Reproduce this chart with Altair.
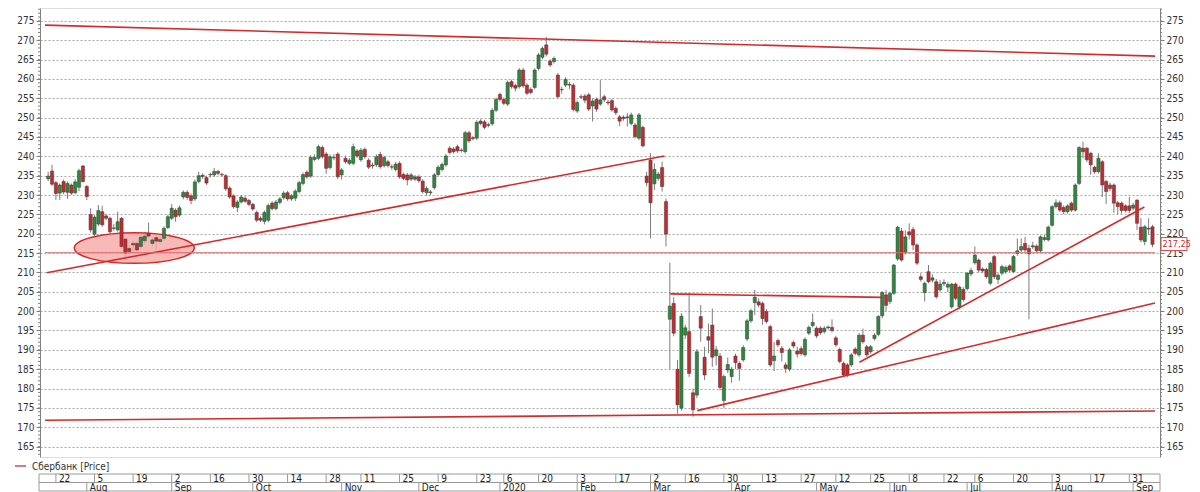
import altair as alt
import pandas as pd

# ---------------- data ----------------
HOLIDAYS = ["2019-11-04", "2019-12-31", "2020-01-01", "2020-01-02", "2020-01-07",
            "2020-02-24", "2020-03-09", "2020-05-01", "2020-05-11", "2020-06-12",
            "2020-06-24", "2020-07-01"]

OPEN = [
    234.2, 236.2, 233.2, 230.5, 233.5, 230.7, 232.6, 230.6, 232.0, 237.5,
    232.2, 225.0, 219.9, 222.5, 225.7, 224.6, 224.0, 221.5, 221.0, 224.0,
    218.6, 216.2, 217.1, 217.5, 216.7, 218.2, 220.1, 217.5, 219.0, 218.0,
    218.8, 221.6, 224.0, 226.1, 224.8, 229.5, 230.7, 229.8, 229.0, 233.5,
    235.1, 234.5, 235.3, 235.2, 236.1, 235.3, 235.0, 231.8, 229.8, 226.8,
    228.2, 229.2, 228.6, 227.6, 225.5, 224.0, 223.2, 223.5, 227.9, 226.5,
    228.1, 229.3, 230.6, 229.0, 229.2, 230.9, 233.0, 235.9, 234.9, 239.2,
    239.5, 242.3, 240.6, 237.1, 239.7, 240.6, 235.2, 239.5, 238.2, 238.2,
    241.4, 239.1, 241.8, 239.0, 237.7, 237.8, 240.5, 237.6, 238.6, 237.3,
    236.6, 238.2, 235.3, 235.2, 234.1, 234.7, 234.7, 233.6, 230.6, 230.8,
    231.9, 235.3, 236.6, 237.8, 242.1, 241.9, 242.5, 241.6, 241.2, 246.1,
    244.8, 244.7, 249.1, 248.9, 248.2, 248.4, 251.9, 256.0, 254.7, 253.5,
    259.3, 258.3, 258.0, 262.3, 258.4, 257.3, 257.8, 262.7, 265.6, 268.8,
    264.6, 264.5, 261.0, 257.3, 258.4, 258.6, 258.4, 251.7, 255.4, 255.6,
    255.9, 253.0, 254.7, 253.5, 255.4, 254.0, 254.4, 252.4, 250.2, 250.1,
    250.2, 248.5, 248.1, 244.7, 247.5, 234.9, 239.0, 232.9, 234.3, 237.1,
    228.3, 197.9, 202.0, 185.0, 174.9, 193.8, 194.7, 178.9, 178.3, 198.6,
    188.1, 193.4, 196.4, 188.5, 188.4, 176.9, 184.8, 183.1, 188.4, 186.5,
    187.4, 192.8, 197.5, 202.2, 202.4, 202.0, 199.9, 196.0, 187.2, 192.4,
    190.4, 186.1, 185.0, 191.9, 189.7, 190.3, 188.7, 194.3, 196.3, 195.6,
    195.6, 194.7, 195.9, 195.8, 193.1, 190.1, 186.5, 186.1, 186.1, 190.2,
    188.7, 193.8, 190.8, 189.5, 192.9, 194.0, 198.8, 204.2, 202.5, 204.6,
    213.5, 220.7, 215.1, 220.5, 221.1, 217.1, 208.9, 204.8, 210.2, 208.0,
    207.6, 205.5, 207.1, 206.2, 201.1, 207.0, 201.1, 205.6, 205.8, 209.6,
    212.5, 213.2, 210.9, 210.8, 207.2, 214.1, 208.2, 209.8, 210.2, 211.7,
    210.2, 214.9, 215.8, 217.5, 216.2, 216.6, 216.8, 215.6, 218.5, 218.4,
    222.2, 227.0, 228.0, 226.8, 225.7, 227.9, 226.1, 233.0, 242.1, 242.1,
    240.8, 237.2, 236.0, 238.6, 233.5, 232.6, 232.6, 228.0, 227.9, 227.2,
    227.2, 226.6, 228.7, 221.7, 218.0, 221.4, 221.8,
]
CLOSE = [
    234.9, 232.8, 230.4, 232.6, 230.8, 233.0, 230.5, 233.4, 236.3, 233.5,
    229.6, 221.0, 224.3, 226.0, 222.3, 224.0, 220.5, 221.4, 223.1, 216.7,
    215.0, 215.4, 217.5, 215.8, 219.1, 219.4, 219.4, 218.4, 218.1, 218.5,
    221.4, 224.4, 226.6, 224.4, 226.7, 230.7, 229.4, 228.6, 233.4, 235.0,
    234.8, 233.1, 235.2, 236.1, 235.6, 235.2, 231.6, 229.5, 227.0, 228.2,
    229.5, 228.4, 227.6, 226.4, 223.5, 223.5, 225.5, 227.3, 226.5, 228.2,
    229.0, 230.5, 229.0, 229.8, 231.0, 233.2, 235.3, 234.7, 239.7, 239.7,
    242.5, 239.9, 236.9, 239.9, 239.6, 234.7, 236.5, 238.6, 239.0, 242.5,
    240.1, 241.6, 239.9, 237.2, 237.5, 239.9, 237.3, 239.7, 237.6, 237.2,
    238.0, 234.7, 234.3, 233.9, 235.2, 234.1, 233.7, 230.9, 231.7, 230.6,
    235.2, 237.2, 237.9, 240.1, 241.0, 241.2, 241.4, 241.5, 246.1, 244.0,
    244.6, 248.8, 248.5, 247.5, 248.0, 251.9, 254.7, 254.7, 253.7, 259.1,
    258.0, 257.6, 262.3, 258.2, 256.3, 256.5, 262.3, 266.2, 267.9, 266.4,
    263.6, 265.3, 255.4, 257.2, 259.9, 258.4, 252.1, 253.9, 255.3, 254.5,
    252.2, 254.3, 252.2, 254.6, 254.6, 253.8, 252.0, 251.3, 249.1, 249.8,
    250.0, 250.7, 245.1, 250.7, 242.7, 233.2, 228.0, 236.6, 235.4, 232.2,
    219.9, 201.3, 194.3, 175.8, 198.7, 195.7, 183.9, 174.5, 189.5, 195.6,
    183.5, 192.5, 188.1, 190.0, 180.3, 183.1, 186.2, 185.0, 186.7, 185.2,
    190.6, 197.5, 200.1, 203.6, 201.6, 198.1, 197.3, 186.1, 188.4, 191.3,
    189.3, 185.2, 190.0, 191.0, 188.9, 189.0, 192.7, 195.8, 197.1, 193.6,
    194.4, 195.6, 195.7, 195.0, 191.3, 187.0, 183.5, 183.5, 188.7, 189.1,
    193.8, 192.1, 188.7, 190.8, 193.8, 198.6, 204.8, 201.5, 204.6, 211.9,
    221.7, 213.2, 219.2, 219.7, 217.1, 212.4, 208.2, 207.2, 207.6, 208.6,
    203.7, 207.0, 207.4, 206.9, 207.0, 203.3, 206.2, 203.0, 209.8, 210.5,
    214.5, 210.6, 210.4, 208.9, 212.4, 208.9, 209.3, 211.5, 211.3, 210.6,
    214.1, 215.6, 216.7, 215.8, 214.8, 216.9, 215.6, 219.2, 219.0, 221.7,
    227.0, 228.0, 226.1, 225.7, 227.2, 226.1, 232.6, 242.3, 241.2, 239.1,
    237.8, 236.0, 239.5, 232.6, 230.9, 231.7, 227.9, 227.0, 226.0, 226.0,
    226.0, 227.4, 222.7, 218.4, 221.8, 221.2, 217.25,
]
HIGH = [
    236.0, 237.8, 233.6, 233.0, 234.0, 233.5, 233.0, 234.1, 236.8, 237.8,
    232.6, 226.6, 224.8, 227.4, 227.2, 225.2, 224.4, 222.5, 225.7, 224.3,
    219.0, 217.0, 218.2, 218.0, 219.6, 220.5, 222.9, 219.0, 219.6, 219.2,
    221.9, 224.9, 227.7, 226.6, 227.3, 231.2, 231.2, 230.4, 234.0, 236.0,
    235.6, 235.0, 235.8, 237.0, 236.5, 235.8, 235.4, 232.3, 230.2, 228.7,
    230.0, 229.7, 229.0, 228.0, 226.0, 224.5, 226.0, 227.8, 228.4, 228.7,
    229.5, 231.0, 231.1, 230.3, 231.5, 233.7, 235.8, 236.4, 240.3, 240.5,
    243.0, 242.8, 241.1, 240.5, 240.6, 241.1, 237.0, 240.2, 239.6, 243.3,
    241.9, 242.2, 242.3, 239.5, 238.4, 240.5, 241.2, 240.2, 239.1, 237.9,
    238.5, 238.7, 235.8, 235.7, 235.7, 235.2, 235.2, 234.1, 232.3, 231.3,
    235.7, 237.7, 238.4, 240.6, 242.6, 242.4, 243.0, 242.1, 246.6, 246.6,
    245.3, 249.3, 249.6, 249.4, 248.7, 252.4, 255.2, 256.5, 255.2, 259.6,
    259.8, 258.8, 262.8, 262.8, 258.9, 257.8, 262.8, 266.7, 268.4, 270.9,
    265.1, 265.8, 261.5, 258.0, 260.4, 259.2, 258.9, 254.4, 256.0, 256.1,
    256.4, 255.0, 255.2, 259.7, 255.9, 254.6, 254.9, 252.9, 250.7, 250.6,
    251.2, 251.3, 248.6, 251.2, 247.9, 236.0, 240.8, 238.2, 236.0, 238.6,
    229.1, 212.5, 203.6, 187.4, 199.5, 196.5, 204.6, 180.0, 190.2, 201.6,
    190.8, 196.8, 200.7, 191.0, 189.2, 183.6, 188.0, 185.6, 189.0, 187.0,
    191.2, 198.0, 200.6, 205.5, 203.3, 202.5, 200.5, 196.5, 192.0, 192.9,
    191.0, 186.8, 190.5, 192.4, 190.8, 190.9, 193.2, 196.3, 199.4, 196.1,
    196.1, 196.1, 196.3, 197.9, 193.6, 190.6, 187.0, 186.6, 189.2, 190.7,
    194.3, 195.5, 191.3, 191.3, 194.3, 199.0, 205.2, 205.5, 205.0, 212.2,
    222.0, 221.5, 220.9, 222.7, 221.8, 217.5, 209.8, 207.6, 211.9, 209.5,
    208.3, 208.0, 208.2, 207.6, 207.3, 207.4, 206.6, 206.2, 210.1, 211.2,
    216.7, 213.6, 211.3, 211.2, 212.8, 214.5, 209.8, 212.0, 211.8, 212.1,
    214.5, 218.8, 218.8, 219.2, 217.1, 217.9, 217.3, 219.6, 219.8, 222.2,
    227.4, 228.9, 228.6, 227.3, 227.6, 228.3, 233.0, 242.6, 243.8, 242.5,
    241.2, 237.6, 240.8, 239.0, 233.9, 233.2, 233.0, 228.5, 228.3, 227.6,
    229.5, 228.0, 228.9, 224.1, 222.3, 224.0, 222.3,
]
LOW = [
    233.6, 232.3, 228.7, 228.7, 230.2, 229.0, 230.0, 230.2, 231.0, 233.2,
    228.7, 220.3, 219.1, 222.0, 221.8, 223.5, 220.0, 220.8, 220.5, 216.2,
    213.2, 214.6, 215.0, 215.3, 216.2, 217.5, 218.8, 216.8, 215.8, 217.5,
    218.3, 221.2, 223.5, 223.1, 224.3, 228.9, 228.8, 227.6, 228.5, 233.0,
    234.2, 232.6, 234.5, 234.7, 235.1, 234.8, 231.1, 229.0, 226.5, 225.6,
    227.8, 227.9, 227.1, 225.9, 223.0, 223.0, 222.4, 223.0, 226.0, 226.0,
    227.6, 228.8, 228.5, 228.5, 228.4, 230.4, 232.5, 234.2, 234.4, 238.7,
    239.0, 239.4, 235.5, 236.6, 239.0, 234.2, 234.0, 238.1, 237.7, 237.7,
    239.6, 238.6, 239.4, 236.7, 236.8, 237.3, 236.8, 237.1, 237.1, 236.5,
    236.1, 234.2, 233.8, 232.5, 233.6, 233.6, 233.2, 230.4, 229.8, 230.0,
    231.4, 234.8, 236.1, 237.3, 240.5, 240.7, 240.9, 241.0, 240.7, 243.5,
    244.1, 244.2, 248.0, 247.0, 247.5, 247.9, 251.4, 254.2, 253.2, 253.0,
    257.5, 256.8, 257.5, 257.7, 255.8, 256.0, 257.3, 262.2, 265.1, 265.8,
    263.1, 264.0, 254.9, 256.2, 257.9, 257.4, 251.6, 251.2, 254.8, 253.7,
    251.7, 249.0, 251.5, 253.0, 254.0, 253.2, 251.5, 250.7, 247.8, 249.2,
    247.7, 248.0, 244.6, 244.2, 242.3, 232.2, 218.8, 231.3, 233.7, 230.9,
    216.7, 185.0, 193.5, 173.5, 174.3, 192.8, 183.0, 172.7, 177.5, 192.1,
    182.2, 189.1, 185.6, 186.0, 179.5, 174.9, 184.0, 181.5, 185.0, 182.0,
    186.9, 192.3, 197.0, 199.0, 201.0, 196.5, 196.8, 185.6, 184.5, 190.7,
    187.0, 184.0, 184.4, 190.4, 188.0, 188.5, 188.2, 193.8, 195.8, 193.0,
    193.9, 194.2, 195.2, 194.5, 190.8, 186.5, 183.0, 183.0, 185.6, 188.6,
    188.2, 191.6, 188.2, 189.0, 192.4, 193.5, 198.2, 200.0, 201.8, 204.2,
    213.0, 212.8, 214.6, 218.5, 215.8, 211.9, 207.6, 202.5, 207.2, 207.4,
    203.2, 205.0, 206.5, 204.9, 200.6, 202.8, 200.5, 202.5, 205.3, 209.0,
    212.0, 210.0, 209.8, 208.4, 206.7, 208.3, 207.0, 209.2, 209.6, 210.1,
    209.8, 214.3, 215.2, 215.3, 197.9, 216.0, 215.1, 215.1, 218.0, 218.0,
    221.8, 226.5, 225.6, 225.0, 225.2, 225.6, 225.7, 232.6, 239.5, 238.5,
    235.2, 235.5, 235.6, 229.5, 227.7, 231.0, 225.4, 225.0, 225.2, 225.5,
    225.3, 226.0, 221.0, 217.8, 217.0, 219.8, 216.5,
]

DAY_TICKS = ["2019-07-22", "2019-08-05", "2019-08-19", "2019-09-02", "2019-09-16",
             "2019-09-30", "2019-10-14", "2019-10-28", "2019-11-11", "2019-11-25",
             "2019-12-09", "2019-12-23", "2020-01-06", "2020-01-20", "2020-02-03",
             "2020-02-17", "2020-03-02", "2020-03-16", "2020-03-30", "2020-04-13",
             "2020-04-27", "2020-05-12", "2020-05-25", "2020-06-08", "2020-06-22",
             "2020-07-06", "2020-07-20", "2020-08-03", "2020-08-17", "2020-08-31"]
MONTH_LABELS = ["Aug", "Sep", "Oct", "Nov", "Dec", "2020", "Feb", "Mar", "Apr",
                "May", "Jun", "Jul", "Aug", "Sep"]
Y_TICKS = list(range(165, 281, 5))
Y_MINOR = list(range(163, 279))

# trend lines drawn on the chart: (index start, value start, index end, value end)
LINE_X1 = [-0.82, -0.39, -0.82, 161.1, -0.82, 168.1, 210.1]
LINE_V1 = [273.9, 209.9, 215.1, 204.45, 171.8, 174.3, 186.8]
LINE_X2 = [286.65, 159.6, 286.65, 216.1, 286.65, 286.65, 283.9]
LINE_V2 = [265.9, 240.1, 215.1, 203.55, 174.2, 202.1, 226.9]
LINE_W = [1.6, 1.6, 1.0, 1.6, 1.6, 1.6, 1.6]
LINE_C = ["#d42a2a", "#d42a2a", "#dd6a6a", "#d42a2a", "#d42a2a", "#d42a2a", "#d42a2a"]

ELLIPSE_X = [22.3]
ELLIPSE_V = [216.3]

LAST_LABEL = "217,25"

# ---------------- build ----------------
days = pd.bdate_range("2019-07-18", "2020-09-08")
days = days[~days.isin(pd.to_datetime(HOLIDAYS))]
n = min(len(days), len(OPEN), len(CLOSE), len(HIGH), len(LOW))
df = pd.DataFrame({
    "i": list(range(n)),
    "open": OPEN[:n], "close": CLOSE[:n], "high": HIGH[:n], "low": LOW[:n],
})
df["dir"] = ["up" if c >= o else "down" for o, c in zip(df["open"], df["close"])]
dates = list(days[:n])
date_index = {d.strftime("%Y-%m-%d"): k for k, d in enumerate(dates)}

tick_idx = [date_index[d] for d in DAY_TICKS if d in date_index]
tick_lab = [str(int(d[-2:])) for d in DAY_TICKS if d in date_index]
ticks_df = pd.DataFrame({"i": tick_idx, "lab": tick_lab})

month_idx = []
prev = dates[0].month
for k, d in enumerate(dates):
    if d.month != prev:
        month_idx.append(k)
        prev = d.month
months_df = pd.DataFrame({"i": month_idx[:len(MONTH_LABELS)],
                          "lab": MONTH_LABELS[:len(month_idx)]})

FONT = "Liberation Sans Narrow, Arial Narrow, DejaVu Sans Condensed, sans-serif"
W, H = 1120, 449
xs = alt.Scale(domain=[-0.821, 286.65], nice=False, zero=False)
ys = alt.Scale(domain=[162.31, 278.33], nice=False, zero=False)

axis_common = dict(values=Y_TICKS, title=None, labelFont=FONT, labelFontSize=10,
                   labelColor="#333333", tickColor="#808080", tickSize=4,
                   domainColor="#808080", labelPadding=2)

# wick layer carries left axis and grid
wicks = alt.Chart(df).mark_rule(color="#7c7c7c", strokeWidth=1).encode(
    x=alt.X("i:Q", scale=xs, axis=alt.Axis(values=tick_idx, grid=True, labels=False,
                                           ticks=False, domain=False, title=None,
                                           gridDash=[2, 2], gridColor="#a8a8a8")),
    y=alt.Y("low:Q", scale=ys, axis=alt.Axis(orient="left", grid=True, gridDash=[2, 2],
                                             gridColor="#a8a8a8", **axis_common)),
    y2="high:Q",
)

bodies = alt.Chart(df).mark_bar(size=3.2, stroke="#3a3a3a", strokeWidth=0.5).encode(
    x=alt.X("i:Q", scale=xs, axis=None),
    y=alt.Y("open:Q", scale=ys, axis=None),
    y2="close:Q",
    color=alt.Color("dir:N", scale=alt.Scale(domain=["up", "down"],
                                             range=["#2b8a3e", "#c8282e"]), legend=None),
)

ell_df = pd.DataFrame({"i": ELLIPSE_X, "v": ELLIPSE_V})
ellipse = alt.Chart(ell_df).mark_point(
    shape="M-1,0A1,0.255,0,1,0,1,0A1,0.255,0,1,0,-1,0Z", size=14400, filled=True,
    fill="#f6a7a7", fillOpacity=0.8, stroke="#d42a2a", strokeWidth=1.5, opacity=1,
).encode(x=alt.X("i:Q", scale=xs, axis=None), y=alt.Y("v:Q", scale=ys, axis=None))

lines_df = pd.DataFrame({"x1": LINE_X1, "v1": LINE_V1, "x2": LINE_X2, "v2": LINE_V2,
                         "w": LINE_W, "c": LINE_C})
lines = alt.Chart(lines_df).mark_rule().encode(
    x=alt.X("x1:Q", scale=xs, axis=None), x2="x2:Q",
    y=alt.Y("v1:Q", scale=ys, axis=None), y2="v2:Q",
    strokeWidth=alt.StrokeWidth("w:Q", scale=None),
    color=alt.Color("c:N", scale=None),
)

# minor ticks on both value axes
minor_df = pd.DataFrame({"v": Y_MINOR})
minor_l = alt.Chart(minor_df).mark_rule(color="#808080", strokeWidth=1).encode(
    x=alt.value(-2), x2=alt.value(0), y=alt.Y("v:Q", scale=ys, axis=None))
minor_r = alt.Chart(minor_df).mark_rule(color="#808080", strokeWidth=1).encode(
    x=alt.value(W), x2=alt.value(W + 2), y=alt.Y("v:Q", scale=ys, axis=None))

# last price label (carries right axis)
last = CLOSE[n - 1]
last_df = pd.DataFrame({"v": [last], "top": [last + 1.75], "bot": [last - 1.6],
                        "lab": [LAST_LABEL]})
last_box = alt.Chart(last_df).mark_rect(fill="white", stroke="#d04545", strokeWidth=1).encode(
    x=alt.value(W + 1), x2=alt.value(W + 27),
    y=alt.Y("top:Q", scale=ys, axis=alt.Axis(orient="right", grid=False, **axis_common)),
    y2="bot:Q",
)
last_txt = alt.Chart(last_df).mark_text(align="left", baseline="middle", font=FONT,
                                        fontSize=9, color="#c83030").encode(
    x=alt.value(W + 2.5), y=alt.Y("v:Q", scale=ys, axis=None), text="lab:N")

# legend line + text below plot
one = pd.DataFrame({"a": [0]})
leg_line = alt.Chart(one).mark_rule(color="#c85050", strokeWidth=1.5).encode(
    x=alt.value(-25), x2=alt.value(-14), y=alt.value(458))
leg_txt = alt.Chart(pd.DataFrame({"t": ["Сбербанк [Price]"]})).mark_text(
    align="left", baseline="middle", font=FONT, fontSize=10, color="#333333").encode(
    x=alt.value(-8), y=alt.value(458.5), text="t:N")

# date box
BOX_L, BOX_R, BOX_T, BOX_M, BOX_B = -1, W, 466, 474.5, 483
box_h = alt.Chart(pd.DataFrame({"y": [BOX_T, BOX_M, BOX_B]})).mark_rule(
    color="#9a9a9a", strokeWidth=1).encode(
    x=alt.value(BOX_L), x2=alt.value(BOX_R), y=alt.Y("y:Q", scale=None))
box_v = alt.Chart(pd.DataFrame({"x": [BOX_L, BOX_R]})).mark_rule(
    color="#9a9a9a", strokeWidth=1).encode(
    x=alt.X("x:Q", scale=None), y=alt.value(BOX_T), y2=alt.value(BOX_B))
day_div = alt.Chart(ticks_df).mark_rule(color="#9a9a9a", strokeWidth=1).encode(
    x=alt.X("i:Q", scale=xs, axis=None), y=alt.value(BOX_T), y2=alt.value(BOX_M))
day_txt = alt.Chart(ticks_df).mark_text(align="left", baseline="middle", dx=3, font=FONT,
                                        fontSize=10, color="#222222").encode(
    x=alt.X("i:Q", scale=xs, axis=None), y=alt.value(470.5), text="lab:N")
mon_div = alt.Chart(months_df).mark_rule(color="#9a9a9a", strokeWidth=1).encode(
    x=alt.X("i:Q", scale=xs, axis=None), y=alt.value(BOX_M), y2=alt.value(BOX_B))
mon_txt = alt.Chart(months_df).mark_text(align="left", baseline="middle", dx=3, font=FONT,
                                         fontSize=10, color="#222222").encode(
    x=alt.X("i:Q", scale=xs, axis=None), y=alt.value(479.5), text="lab:N")

chart = alt.layer(
    wicks, ellipse, bodies, lines, minor_l, minor_r, last_box, last_txt,
    leg_line, leg_txt, box_h, box_v, day_div, day_txt, mon_div, mon_txt,
).resolve_axis(y="independent").properties(
    width=W, height=H,
    padding={"left": 32, "top": 0, "right": 32, "bottom": 35},
    autosize=alt.AutoSizeParams(type="none"),
).configure_view(stroke=None).configure(background="white")

chart.save("out.html", embed_options={"renderer": "svg", "actions": False})
